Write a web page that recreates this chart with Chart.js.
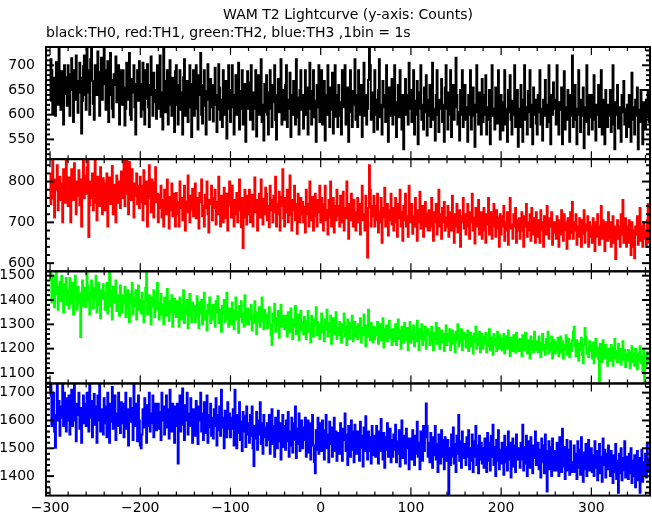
<!DOCTYPE html>
<html>
<head>
<meta charset="utf-8">
<title>WAM T2 Lightcurve</title>
<script src="https://cdn.jsdelivr.net/npm/chart.js@4.4.0/dist/chart.umd.min.js"></script>
<style>
  html, body { margin: 0; padding: 0; background: #ffffff; }
  #wrap { width: 652px; height: 515px; }
</style>
</head>
<body>
<div id="wrap"><canvas id="lc" width="652" height="515"></canvas></div>
<script>
// light curve, 1 bin = 1 s, first bin at t = -300 s
const tStart = -300;

// TH0 (black)
const th0 = [
  628, 712, 690, 602, 675, 640, 598, 706, 668, 620, 735, 650, 610, 688, 660, 580, 700, 642, 676, 618,
  700, 636, 598, 682, 714, 650, 585, 690, 630, 720, 668, 604, 645, 705, 675, 562, 628, 698, 720, 640,
  610, 737, 690, 645, 600, 712, 737, 668, 622, 590, 700, 680, 640, 728, 655, 598, 686, 715, 630, 662,
  737, 690, 610, 650, 708, 585, 640, 725, 670, 612, 595, 682, 660, 718, 625, 642, 700, 580, 664, 690,
  620, 690, 655, 578, 612, 705, 668, 630, 725, 600, 590, 672, 645, 700, 615, 560, 662, 690, 628, 708,
  662, 596, 610, 705, 650, 580, 690, 632, 702, 615, 575, 660, 718, 640, 598, 685, 625, 650, 592, 700,
  612, 680, 720, 596, 645, 570, 737, 668, 605, 632, 690, 580, 655, 710, 620, 598, 675, 645, 565, 688,
  700, 620, 580, 660, 690, 610, 645, 560, 676, 712, 598, 630, 668, 585, 640, 700, 615, 555, 662, 690,
  598, 655, 700, 612, 570, 680, 640, 725, 600, 582, 660, 690, 618, 560, 648, 702, 630, 590, 672, 615,
  660, 586, 620, 695, 640, 565, 610, 702, 655, 590, 630, 575, 690, 640, 600, 668, 552, 625, 700, 612,
  585, 650, 700, 615, 560, 640, 680, 600, 625, 705, 570, 648, 612, 690, 580, 630, 662, 545, 640, 688,
  612, 665, 590, 700, 628, 570, 645, 612, 690, 556, 630, 680, 600, 640, 712, 585, 620, 548, 662, 605,
  680, 600, 560, 645, 690, 612, 575, 660, 625, 700, 590, 550, 640, 672, 605, 630, 712, 580, 615, 650,
  590, 660, 700, 575, 630, 612, 685, 555, 640, 600, 668, 620, 580, 712, 635, 595, 560, 650, 690, 610,
  640, 572, 620, 690, 600, 655, 560, 625, 705, 612, 580, 648, 690, 595, 628, 545, 660, 615, 700, 585,
  630, 690, 580, 612, 668, 548, 640, 600, 700, 620, 575, 655, 610, 685, 562, 630, 700, 596, 640, 575,
  660, 598, 625, 560, 690, 615, 640, 700, 580, 612, 655, 545, 630, 690, 605, 575, 648, 620, 712, 590,
  640, 575, 690, 620, 600, 660, 555, 630, 705, 598, 640, 580, 612, 670, 760, 700, 590, 645, 615, 565,
  690, 600, 630, 570, 650, 712, 595, 620, 560, 668, 615, 640, 585, 700, 610, 545, 655, 630, 598, 672,
  580, 640, 700, 600, 555, 625, 660, 595, 690, 610, 570, 640, 530, 615, 672, 600, 640, 580, 705, 612,
  650, 585, 615, 690, 560, 628, 600, 668, 540, 612, 645, 700, 590, 620, 570, 655, 605, 680, 558, 630,
  598, 660, 575, 625, 705, 590, 612, 548, 640, 690, 600, 565, 630, 612, 672, 585, 620, 545, 655, 700,
  612, 570, 645, 600, 690, 555, 625, 660, 590, 615, 715, 640, 580, 605, 548, 650, 600, 690, 575, 628,
  660, 590, 615, 545, 640, 600, 690, 570, 625, 655, 598, 535, 620, 700, 605, 580, 645, 612, 560, 672,
  585, 640, 600, 680, 560, 615, 590, 650, 540, 625, 700, 598, 612, 570, 655, 620, 582, 690, 605, 550,
  640, 600, 568, 625, 690, 580, 612, 545, 650, 605, 680, 590, 560, 628, 600, 700, 575, 615, 650, 535,
  612, 575, 660, 600, 545, 630, 700, 590, 615, 560, 648, 605, 690, 575, 620, 540, 655, 600, 630, 582,
  560, 640, 605, 690, 580, 612, 548, 630, 598, 670, 620, 575, 605, 700, 585, 540, 640, 600, 665, 612,
  630, 580, 700, 598, 560, 625, 610, 655, 540, 600, 688, 570, 615, 590, 650, 605, 545, 640, 598, 720,
  575, 620, 660, 590, 540, 612, 690, 600, 565, 630, 598, 655, 532, 615, 585, 700, 605, 560, 640, 595,
  640, 570, 605, 680, 590, 548, 620, 600, 660, 575, 612, 690, 560, 598, 630, 540, 650, 605, 575, 620,
  598, 650, 565, 612, 700, 580, 530, 625, 600, 660, 572, 615, 590, 545, 640, 605, 668, 580, 612, 555,
  620, 575, 640, 600, 545, 685, 590, 615, 560, 630, 598, 655, 530, 610, 585, 650, 600, 540, 625, 592,
  570, 630, 595, 650, 585
];

// TH1 (red)
const th1 = [
  820, 745, 790, 855, 760, 712, 805, 780, 840, 730, 770, 812, 755, 795, 700, 830, 780, 748, 855, 765,
  740, 810, 775, 700, 830, 790, 755, 845, 780, 720, 800, 765, 828, 742, 805, 690, 790, 855, 760, 815,
  770, 835, 855, 664, 742, 800, 760, 820, 730, 790, 855, 748, 705, 812, 775, 740, 835, 790, 720, 808,
  795, 730, 760, 820, 690, 785, 810, 745, 775, 838, 720, 792, 760, 700, 815, 770, 748, 800, 735, 825,
  760, 815, 855, 740, 790, 855, 770, 720, 848, 800, 755, 830, 780, 712, 795, 765, 820, 745, 790, 735,
  812, 750, 790, 705, 828, 770, 745, 800, 690, 780, 840, 760, 725, 805, 775, 712, 798, 835, 750, 770,
  700, 768, 735, 790, 712, 755, 690, 780, 740, 720, 805, 750, 685, 762, 730, 795, 715, 770, 745, 690,
  772, 720, 750, 690, 800, 735, 760, 705, 745, 790, 680, 752, 725, 815, 740, 700, 765, 730, 782, 715,
  740, 795, 710, 760, 730, 685, 772, 750, 805, 715, 740, 690, 768, 735, 800, 720, 675, 755, 745, 790,
  705, 760, 735, 780, 695, 750, 720, 812, 740, 690, 765, 730, 700, 785, 748, 710, 770, 680, 742, 800,
  760, 712, 790, 735, 690, 755, 720, 772, 700, 745, 805, 730, 688, 760, 637, 712, 780, 740, 695, 765,
  720, 780, 700, 745, 768, 690, 735, 810, 725, 755, 680, 740, 770, 712, 805, 730, 695, 758, 720, 785,
  770, 705, 740, 688, 790, 730, 755, 700, 765, 725, 812, 690, 745, 720, 775, 680, 740, 762, 830, 710,
  690, 760, 725, 780, 700, 742, 815, 718, 680, 755, 730, 790, 705, 745, 672, 770, 730, 700, 760, 720,
  750, 700, 738, 675, 780, 720, 745, 690, 800, 730, 705, 762, 680, 735, 770, 715, 690, 755, 725, 790,
  700, 760, 720, 680, 745, 790, 705, 730, 670, 755, 712, 800, 690, 725, 760, 675, 740, 705, 780, 715,
  740, 690, 765, 720, 700, 775, 680, 735, 710, 800, 725, 660, 745, 705, 770, 720, 690, 755, 712, 680,
  725, 760, 700, 745, 670, 735, 790, 705, 720, 680, 765, 700, 614, 735, 840, 780, 690, 740, 715, 765,
  690, 740, 705, 770, 675, 725, 700, 760, 650, 735, 712, 785, 690, 720, 745, 668, 730, 705, 770, 695,
  735, 680, 720, 760, 700, 665, 745, 710, 780, 690, 725, 655, 740, 705, 770, 690, 715, 665, 790, 720,
  700, 745, 672, 715, 690, 760, 705, 655, 730, 700, 775, 685, 720, 740, 665, 710, 750, 690, 722, 680,
  730, 680, 715, 760, 690, 655, 725, 700, 745, 670, 712, 780, 690, 720, 660, 735, 700, 750, 680, 712,
  690, 740, 665, 710, 725, 680, 765, 700, 650, 720, 690, 745, 675, 705, 730, 640, 715, 700, 760, 685,
  720, 670, 705, 745, 690, 660, 725, 700, 770, 680, 712, 648, 735, 690, 715, 755, 670, 700, 725, 660,
  700, 735, 680, 650, 720, 695, 760, 670, 705, 725, 660, 690, 745, 700, 665, 730, 685, 712, 640, 720,
  670, 715, 690, 740, 655, 700, 680, 725, 645, 705, 760, 685, 695, 660, 720, 690, 735, 650, 705, 680,
  710, 660, 700, 725, 680, 640, 715, 690, 745, 665, 700, 680, 720, 655, 735, 690, 670, 710, 650, 725,
  665, 705, 690, 650, 730, 680, 700, 640, 715, 695, 670, 740, 685, 660, 710, 690, 725, 645, 700, 675,
  700, 660, 715, 685, 640, 705, 670, 730, 690, 655, 720, 680, 700, 635, 710, 690, 660, 725, 675, 750,
  660, 700, 680, 720, 645, 690, 665, 710, 685, 640, 705, 672, 730, 650, 695, 680, 715, 640, 700, 665,
  690, 650, 710, 675, 630, 700, 665, 720, 680, 645, 690, 740, 660, 705, 670, 630, 700, 685, 655, 725,
  660, 700, 640, 685, 715, 650, 690, 610, 675, 705, 660, 690, 640, 720, 670, 755, 650, 690, 710, 640,
  690, 650, 705, 665, 620, 700, 680, 640, 612, 690, 670, 715, 645, 680, 735, 655, 690, 640, 700, 660,
  680, 640, 705, 745, 650
];

// TH2 (green)
const th2 = [
  1480, 1518, 1390, 1440, 1500, 1370, 1425, 1518, 1455, 1360, 1410, 1475, 1395, 1500, 1430, 1350, 1465, 1420, 1490, 1380,
  1440, 1365, 1490, 1410, 1385, 1470, 1340, 1445, 1500, 1400, 1360, 1455, 1425, 1385, 1248, 1430, 1480, 1375, 1450, 1410,
  1370, 1518, 1460, 1395, 1340, 1430, 1480, 1410, 1365, 1450, 1400, 1500, 1350, 1420, 1470, 1380, 1325, 1440, 1405, 1465,
  1430, 1360, 1410, 1470, 1345, 1400, 1518, 1375, 1435, 1320, 1455, 1390, 1410, 1480, 1355, 1420, 1395, 1335, 1460, 1400,
  1350, 1420, 1385, 1455, 1330, 1400, 1440, 1365, 1310, 1425, 1390, 1470, 1340, 1410, 1375, 1440, 1320, 1395, 1460, 1360,
  1400, 1345, 1430, 1370, 1310, 1395, 1450, 1518, 1340, 1385, 1420, 1355, 1300, 1410, 1375, 1440, 1330, 1395, 1360, 1470,
  1390, 1320, 1375, 1425, 1340, 1380, 1300, 1410, 1360, 1335, 1445, 1370, 1315, 1395, 1350, 1420, 1290, 1380, 1405, 1345,
  1330, 1395, 1350, 1290, 1410, 1365, 1320, 1380, 1440, 1305, 1370, 1340, 1400, 1285, 1360, 1425, 1335, 1310, 1390, 1355,
  1375, 1310, 1360, 1415, 1330, 1285, 1390, 1345, 1400, 1300, 1365, 1430, 1320, 1355, 1275, 1380, 1340, 1410, 1305, 1350,
  1320, 1380, 1335, 1290, 1395, 1350, 1415, 1305, 1360, 1330, 1270, 1375, 1345, 1400, 1310, 1355, 1430, 1320, 1290, 1365,
  1360, 1300, 1390, 1340, 1280, 1355, 1410, 1320, 1345, 1265, 1375, 1330, 1395, 1310, 1350, 1290, 1420, 1335, 1300, 1365,
  1300, 1355, 1320, 1380, 1275, 1340, 1305, 1395, 1330, 1260, 1350, 1310, 1370, 1290, 1345, 1410, 1315, 1280, 1360, 1325,
  1340, 1285, 1330, 1370, 1300, 1255, 1215, 1345, 1310, 1385, 1270, 1325, 1295, 1355, 1245, 1320, 1380, 1290, 1335, 1300,
  1280, 1335, 1300, 1250, 1350, 1315, 1270, 1365, 1295, 1240, 1320, 1290, 1375, 1260, 1310, 1340, 1235, 1300, 1355, 1275,
  1310, 1260, 1330, 1290, 1240, 1315, 1355, 1270, 1300, 1225, 1335, 1285, 1250, 1320, 1295, 1370, 1255, 1310, 1280, 1240,
  1300, 1345, 1265, 1290, 1230, 1320, 1280, 1360, 1250, 1305, 1270, 1335, 1220, 1295, 1325, 1260, 1290, 1350, 1240, 1285,
  1255, 1310, 1280, 1225, 1300, 1270, 1345, 1250, 1290, 1215, 1320, 1275, 1240, 1305, 1285, 1335, 1230, 1270, 1310, 1250,
  1290, 1240, 1300, 1265, 1325, 1225, 1285, 1255, 1340, 1270, 1210, 1295, 1250, 1360, 1280, 1235, 1305, 1260, 1225, 1290,
  1240, 1285, 1255, 1310, 1220, 1270, 1300, 1235, 1265, 1325, 1205, 1280, 1250, 1295, 1230, 1270, 1315, 1245, 1280, 1215,
  1280, 1230, 1265, 1300, 1215, 1255, 1320, 1240, 1275, 1200, 1290, 1250, 1225, 1305, 1260, 1235, 1285, 1195, 1265, 1310,
  1225, 1275, 1240, 1295, 1210, 1260, 1230, 1315, 1250, 1195, 1280, 1240, 1300, 1215, 1265, 1235, 1290, 1200, 1255, 1280,
  1270, 1215, 1255, 1290, 1230, 1195, 1265, 1240, 1305, 1220, 1250, 1285, 1200, 1245, 1275, 1225, 1260, 1190, 1240, 1295,
  1215, 1260, 1230, 1280, 1195, 1245, 1275, 1220, 1255, 1185, 1270, 1235, 1300, 1210, 1250, 1225, 1280, 1195, 1240, 1265,
  1255, 1205, 1240, 1275, 1190, 1230, 1265, 1210, 1250, 1180, 1260, 1225, 1290, 1200, 1245, 1215, 1270, 1185, 1235, 1260,
  1200, 1250, 1220, 1265, 1185, 1235, 1210, 1280, 1195, 1245, 1225, 1175, 1260, 1215, 1240, 1190, 1270, 1225, 1200, 1255,
  1240, 1195, 1230, 1260, 1180, 1220, 1250, 1200, 1275, 1210, 1170, 1245, 1215, 1190, 1255, 1225, 1185, 1265, 1205, 1235,
  1190, 1240, 1210, 1170, 1255, 1220, 1195, 1265, 1205, 1180, 1235, 1215, 1160, 1250, 1200, 1230, 1185, 1270, 1210, 1195,
  1230, 1185, 1250, 1200, 1165, 1225, 1260, 1195, 1215, 1175, 1240, 1205, 1270, 1180, 1220, 1195, 1250, 1160, 1210, 1235,
  1180, 1225, 1195, 1245, 1170, 1210, 1250, 1185, 1230, 1160, 1215, 1195, 1255, 1175, 1205, 1240, 1165, 1220, 1190, 1235,
  1270, 1290, 1210, 1170, 1235, 1185, 1150, 1220, 1195, 1245, 1175, 1140, 1215, 1285, 1250, 1180, 1205, 1165, 1230, 1190,
  1210, 1160, 1225, 1140, 1195, 1240, 1170, 1205, 1155, 1065, 1220, 1180, 1145, 1235, 1190, 1160, 1215, 1175, 1130, 1200,
  1195, 1150, 1215, 1175, 1130, 1205, 1240, 1160, 1190, 1145, 1220, 1170, 1200, 1135, 1185, 1230, 1155, 1195, 1125, 1180,
  1150, 1195, 1160, 1120, 1185, 1210, 1145, 1175, 1130, 1200, 1165, 1115, 1180, 1150, 1210, 1140, 1170, 1105, 1190, 1065,
  1170, 1130, 1185, 1145, 1160
];

// TH3 (blue)
const th3 = [
  1690, 1733, 1580, 1640, 1700, 1560, 1502, 1620, 1733, 1600, 1670, 1545, 1650, 1610, 1733, 1580, 1700, 1630, 1560, 1680,
  1600, 1690, 1550, 1640, 1710, 1580, 1655, 1733, 1600, 1525, 1660, 1620, 1700, 1570, 1645, 1520, 1610, 1690, 1590, 1660,
  1580, 1700, 1640, 1560, 1733, 1610, 1670, 1540, 1630, 1695, 1585, 1650, 1520, 1690, 1600, 1733, 1560, 1640, 1610, 1550,
  1680, 1590, 1650, 1540, 1700, 1620, 1520, 1660, 1595, 1720, 1570, 1640, 1690, 1530, 1625, 1580, 1700, 1610, 1555, 1665,
  1590, 1660, 1540, 1625, 1700, 1570, 1640, 1510, 1610, 1680, 1595, 1645, 1530, 1733, 1580, 1660, 1615, 1525, 1690, 1600,
  1510, 1500, 1550, 1640, 1575, 1680, 1600, 1520, 1655, 1580, 1700, 1560, 1625, 1590, 1690, 1540, 1615, 1660, 1565, 1630,
  1660, 1570, 1630, 1530, 1700, 1600, 1650, 1550, 1620, 1690, 1575, 1640, 1535, 1710, 1605, 1560, 1660, 1590, 1520, 1650,
  1580, 1660, 1445, 1615, 1690, 1560, 1635, 1715, 1585, 1530, 1655, 1600, 1700, 1550, 1625, 1580, 1680, 1610, 1520, 1640,
  1630, 1545, 1670, 1590, 1515, 1650, 1600, 1700, 1560, 1625, 1530, 1665, 1595, 1555, 1690, 1520, 1620, 1575, 1660, 1545,
  1610, 1535, 1640, 1580, 1680, 1510, 1620, 1565, 1650, 1545, 1710, 1575, 1610, 1500, 1635, 1590, 1540, 1665, 1570, 1625,
  1540, 1610, 1570, 1640, 1510, 1710, 1580, 1500, 1620, 1555, 1665, 1530, 1595, 1490, 1630, 1560, 1615, 1505, 1650, 1550,
  1590, 1520, 1620, 1545, 1650, 1500, 1436, 1580, 1535, 1630, 1495, 1600, 1550, 1665, 1515, 1590, 1480, 1620, 1540, 1575,
  1510, 1590, 1530, 1620, 1480, 1565, 1640, 1515, 1580, 1470, 1610, 1540, 1500, 1635, 1525, 1590, 1460, 1570, 1620, 1505,
  1580, 1495, 1600, 1525, 1630, 1470, 1560, 1510, 1610, 1485, 1590, 1530, 1650, 1465, 1570, 1515, 1625, 1490, 1550, 1600,
  1500, 1575, 1530, 1610, 1470, 1550, 1600, 1485, 1590, 1460, 1545, 1620, 1510, 1450, 1410, 1565, 1495, 1610, 1480, 1560,
  1590, 1490, 1600, 1525, 1460, 1565, 1620, 1500, 1550, 1450, 1595, 1515, 1575, 1470, 1545, 1610, 1490, 1560, 1455, 1540,
  1555, 1480, 1590, 1510, 1455, 1570, 1530, 1625, 1490, 1550, 1440, 1580, 1505, 1470, 1600, 1495, 1560, 1450, 1585, 1520,
  1480, 1560, 1510, 1455, 1595, 1500, 1545, 1435, 1575, 1490, 1615, 1515, 1460, 1560, 1490, 1540, 1445, 1580, 1510, 1475,
  1545, 1470, 1580, 1500, 1445, 1560, 1490, 1605, 1515, 1460, 1555, 1430, 1540, 1495, 1590, 1470, 1520, 1570, 1450, 1530,
  1470, 1550, 1495, 1585, 1450, 1525, 1480, 1565, 1435, 1510, 1600, 1465, 1545, 1490, 1445, 1570, 1500, 1535, 1425, 1520,
  1535, 1460, 1565, 1495, 1440, 1545, 1480, 1595, 1470, 1520, 1425, 1560, 1500, 1455, 1580, 1490, 1540, 1661, 1580, 1470,
  1520, 1450, 1555, 1490, 1430, 1540, 1475, 1580, 1460, 1515, 1415, 1550, 1495, 1445, 1565, 1470, 1530, 1425, 1540, 1485,
  1455, 1530, 1330, 1500, 1440, 1550, 1470, 1575, 1445, 1515, 1415, 1545, 1480, 1620, 1455, 1525, 1430, 1560, 1465, 1510,
  1515, 1440, 1540, 1470, 1565, 1425, 1500, 1455, 1550, 1415, 1525, 1470, 1580, 1440, 1510, 1410, 1545, 1460, 1520, 1445,
  1500, 1430, 1535, 1465, 1415, 1555, 1455, 1520, 1420, 1545, 1470, 1585, 1440, 1505, 1400, 1530, 1455, 1565, 1425, 1495,
  1445, 1520, 1470, 1405, 1545, 1450, 1505, 1420, 1560, 1460, 1520, 1395, 1490, 1535, 1435, 1510, 1415, 1550, 1460, 1500,
  1495, 1430, 1520, 1460, 1585, 1420, 1505, 1445, 1545, 1400, 1480, 1525, 1430, 1540, 1455, 1410, 1510, 1465, 1560, 1440,
  1455, 1520, 1425, 1495, 1395, 1535, 1450, 1510, 1410, 1550, 1440, 1345, 1490, 1525, 1425, 1505, 1400, 1535, 1460, 1420,
  1490, 1420, 1520, 1445, 1400, 1540, 1460, 1415, 1570, 1435, 1505, 1390, 1475, 1530, 1420, 1495, 1405, 1525, 1450, 1415,
  1440, 1510, 1415, 1480, 1390, 1525, 1430, 1495, 1405, 1540, 1445, 1380, 1485, 1425, 1515, 1400, 1470, 1530, 1420, 1465,
  1500, 1415, 1475, 1400, 1525, 1430, 1490, 1385, 1460, 1515, 1410, 1470, 1380, 1535, 1440, 1495, 1395, 1480, 1425, 1510,
  1460, 1400, 1490, 1420, 1375, 1475, 1415, 1515, 1390, 1455, 1340, 1480, 1410, 1500, 1385, 1465, 1420, 1525, 1395, 1470,
  1420, 1390, 1480, 1410, 1500, 1375, 1455, 1400, 1475, 1360, 1430, 1490, 1385, 1465, 1340, 1420, 1495, 1380, 1450, 1405,
  1480, 1395, 1520, 1415, 1455
];

const xTicks = [-300, -200, -100, 0, 100, 200, 300];
const yTicks0 = [550, 600, 650, 700];
const yTicks1 = [600, 700, 800];
const yTicks2 = [1100, 1200, 1300, 1400, 1500];
const yTicks3 = [1400, 1500, 1600, 1700];

const titleText = "WAM T2 Lightcurve (y-axis: Counts)";
const subtitleText = "black:TH0, red:TH1, green:TH2, blue:TH3 ,1bin = 1s";
const FONT = { family: "'DejaVu Sans', sans-serif", size: 14, weight: "normal" };

// one panel per energy channel, top to bottom
const panels = [
  { id: "y0", label: "TH0", values: th0, color: "#000000", min: 510, max: 737, ticks: yTicks0, minor: 10, order: 4 },
  { id: "y1", label: "TH1", values: th1, color: "#ff0000", min: 580, max: 855, ticks: yTicks1, minor: 20, order: 3 },
  { id: "y2", label: "TH2", values: th2, color: "#00ff00", min: 1057, max: 1518, ticks: yTicks2, minor: 20, order: 2 },
  { id: "y3", label: "TH3", values: th3, color: "#0000ff", min: 1330, max: 1733, ticks: yTicks3, minor: 20, order: 1 },
];

const times = th0.map((_, i) => tStart + i);
const minus = (v) => String(v).replace("-", "\u2212");

const scales = {
  x: {
    type: "linear",
    min: -304.5,
    max: 365,
    grid: { display: false, drawTicks: false },
    border: { display: false },
    afterBuildTicks: (axis) => { axis.ticks = xTicks.map((v) => ({ value: v })); },
    afterFit: (axis) => { axis.height = 19; },
    ticks: { color: "#000", font: FONT, padding: 4, maxRotation: 0, autoSkip: false, callback: (v) => minus(v) },
  },
};
panels.forEach((p) => {
  scales[p.id] = {
    type: "linear",
    position: "left",
    stack: "lc",
    stackWeight: 1,
    weight: p.order,
    min: p.min,
    max: p.max,
    grid: { display: false, drawTicks: false },
    border: { display: false },
    afterBuildTicks: (axis) => { axis.ticks = p.ticks.map((v) => ({ value: v })); },
    afterFit: (axis) => { axis.width = 46; },
    ticks: { color: "#000", font: FONT, padding: 11, autoSkip: false, callback: (v) => String(v) },
  };
});

// IDL style frame: boxes with inward tick marks on every side
const idlFrame = {
  id: "idlFrame",
  afterDatasetsDraw(chart) {
    const { ctx } = chart;
    const xs = chart.scales.x;
    const left = xs.left;
    const right = xs.right;
    ctx.save();
    ctx.strokeStyle = "#000";
    const seg = (x1, y1, x2, y2) => { ctx.beginPath(); ctx.moveTo(x1, y1); ctx.lineTo(x2, y2); ctx.stroke(); };
    panels.forEach((p) => {
      const ys = chart.scales[p.id];
      const top = ys.top;
      const bottom = ys.bottom;
      ctx.lineWidth = 1.2;
      for (let v = -300; v <= xs.max; v += 20) {
        const px = xs.getPixelForValue(v);
        const len = xTicks.includes(v) ? 8 : 4;
        seg(px, top, px, top + len);
        seg(px, bottom, px, bottom - len);
      }
      ctx.lineWidth = 2;
      for (let v = Math.ceil(p.min / p.minor) * p.minor; v <= p.max; v += p.minor) {
        const py = ys.getPixelForValue(v);
        const len = p.ticks.includes(v) ? 8 : 4;
        seg(left, py, left + len, py);
        seg(right, py, right - len, py);
      }
      ctx.lineWidth = 2;
      ctx.strokeRect(left, top, right - left, bottom - top);
    });
    ctx.restore();
  },
};

new Chart(document.getElementById("lc"), {
  type: "line",
  data: {
    datasets: panels.map((p) => ({
      label: p.label,
      yAxisID: p.id,
      data: p.values.map((v, i) => ({ x: times[i], y: v })),
      borderColor: p.color,
      backgroundColor: p.color,
      borderWidth: 2,
      pointRadius: 0,
      stepped: "middle",
      fill: false,
    })),
  },
  options: {
    responsive: false,
    animation: false,
    devicePixelRatio: 1,
    events: [],
    layout: { padding: { left: 0, right: 2, top: 0, bottom: 0 } },
    scales: scales,
    plugins: {
      legend: { display: false },
      tooltip: { enabled: false },
      title: { display: true, text: titleText, fullSize: false, color: "#000", font: FONT, padding: { top: 7, bottom: 0 } },
      subtitle: { display: true, text: subtitleText, fullSize: false, align: "start", color: "#000", font: FONT, padding: { top: 1.6, bottom: 4.8 } },
    },
  },
  plugins: [idlFrame],
});
</script>
</body>
</html>
